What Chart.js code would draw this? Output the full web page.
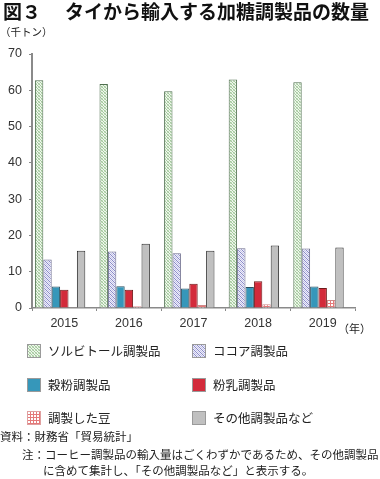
<!DOCTYPE html>
<html><head><meta charset="utf-8">
<script src="https://cdn.jsdelivr.net/npm/chart.js@4.4.1/dist/chart.umd.min.js"></script>
<style>
html,body{margin:0;padding:0;background:#fff;}
#wrap{position:relative;width:380px;height:479px;overflow:hidden;font-family:"Noto Sans CJK JP","Noto Sans",sans-serif;color:#222;}
#c{position:absolute;left:0;top:0;}
.t{position:absolute;white-space:nowrap;line-height:1;}
#title{left:3px;top:1px;font-size:19px;font-weight:bold;color:#111;}
#unit{left:0;top:27px;font-size:10.5px;}
#nen{left:338px;top:323px;font-size:11px;}
.lg{position:absolute;font-size:12.5px;line-height:1;white-space:nowrap;}
.sw{position:absolute;width:14px;height:14px;}
.ft{font-size:11.5px;}
</style></head>
<body><div id="wrap">
<canvas id="c" width="380" height="479"></canvas>
<div class="t" id="title">図３<span style="margin-left:24px">タイから輸入する加糖調製品の数量</span></div>
<div class="t" id="unit">（千トン）</div>
<div class="t" id="nen">（年）</div>
<div id="legend"></div>
<div class="t ft" style="left:0;top:431px;">資料：財務省「貿易統計」</div>
<div class="t ft" style="left:22px;top:449px;">注：コーヒー調製品の輸入量はごくわずかであるため、その他調製品</div>
<div class="t ft" style="left:43px;top:465px;">に含めて集計し、「その他調製品など」と表示する。</div>
</div>
<script>
// ---- data ----
const categories = ['2015','2016','2017','2018','2019'];
const seriesNames = ['ソルビトール調製品','ココア調製品','穀粉調製品','粉乳調製品','調製した豆','その他調製品など'];
const sorbitol = [62.8, 61.7, 59.7, 63.0, 62.2];
const cocoa    = [13.4, 15.6, 15.1, 16.5, 16.4];
const flour    = [5.9, 6.0, 5.4, 5.8, 5.9];
const milk     = [5.0, 5.0, 6.7, 7.4, 5.5];
const beans    = [0.1, 0.5, 0.8, 1.0, 2.2];
const others   = [15.8, 17.7, 15.8, 17.2, 16.7];
const yTicks   = [0,10,20,30,40,50,60,70];

// ---- patterns ----
function makeTile(kind){
  const t=document.createElement('canvas');
  const s = kind==='bean'?3:(kind==='sorb'?3:4);
  t.width=s;t.height=s;
  const g=t.getContext('2d');
  if(kind==='sorb'){
    g.fillStyle='#eef6eb';g.fillRect(0,0,3,3);
    g.fillStyle='#a3c99c';
    [[0,0],[1,1],[2,2]].forEach(p=>g.fillRect(p[0],p[1],1,1));
    g.fillStyle='#c5dec0';
    [[2,0],[0,2]].forEach(p=>g.fillRect(p[0],p[1],1,1));
  }else if(kind==='cocoa'){
    g.fillStyle='#eeeefa';g.fillRect(0,0,4,4);
    g.fillStyle='#8a8ac8';
    [[0,0],[1,1],[2,2],[3,3]].forEach(p=>g.fillRect(p[0],p[1],1,1));
    g.fillStyle='#c4c4e6';
    [[2,0],[3,1],[0,2],[1,3]].forEach(p=>g.fillRect(p[0],p[1],1,1));
  }else if(kind==='bean'){
    g.fillStyle='#ffffff';g.fillRect(0,0,3,3);
    g.fillStyle='#e47a7a';
    g.fillRect(0,0,3,1);g.fillRect(0,0,1,3);
  }
  return t;
}
const ctx=document.getElementById('c').getContext('2d');
const pats={
  sorb:ctx.createPattern(makeTile('sorb'),'repeat'),
  cocoa:ctx.createPattern(makeTile('cocoa'),'repeat'),
  bean:ctx.createPattern(makeTile('bean'),'repeat')
};
const styles=[
  {bg:pats.sorb,bd:'#4f6f4f',tile:'sorb'},
  {bg:pats.cocoa,bd:'#6c6c8c',tile:'cocoa'},
  {bg:'#3697ba',bd:'#2c4f60'},
  {bg:'#d32b3b',bd:'#6e1a1a'},
  {bg:pats.bean,bd:'#d08888',tile:'bean'},
  {bg:'#c0c0c0',bd:'#333333'}
];
const values=[sorbitol,cocoa,flour,milk,beans,others];
const datasets=values.map((v,i)=>({
  label:seriesNames[i],data:v,backgroundColor:styles[i].bg,borderColor:styles[i].bd,
  borderWidth:1,barPercentage:1,categoryPercentage:0.91
}));
// spacer slot (coffee preparations are merged into others; the reference keeps an empty slot)
datasets.push({label:'',data:categories.map(()=>null),barPercentage:1,categoryPercentage:0.91});

new Chart(ctx,{
  type:'bar',
  data:{labels:categories,datasets:datasets},
  options:{
    responsive:false,animation:false,
    layout:{padding:{left:0,top:54,right:25,bottom:147}},
    plugins:{legend:{display:false},tooltip:{enabled:false}},
    scales:{
      x:{
        grid:{drawOnChartArea:false,tickLength:3,color:'#888',lineWidth:1},
        border:{color:'#8a8a8a',width:1.5},
        ticks:{font:{family:'"Liberation Sans",Arial,sans-serif',size:12.5},color:'#333',padding:5,maxRotation:0},
        afterFit:s=>{s.height=24;}
      },
      y:{
        min:0,max:70,
        afterBuildTicks:s=>{s.ticks=yTicks.map(v=>({value:v}));},
        grid:{drawOnChartArea:false,tickLength:3,color:'#888',lineWidth:1},
        border:{color:'#8a8a8a',width:2},
        ticks:{font:{family:'"Liberation Sans",Arial,sans-serif',size:12.5},color:'#333',padding:7},
        afterFit:s=>{s.width=32;}
      }
    }
  }
});

// ---- legend (HTML) ----
const lg=document.getElementById('legend');
const pos=[[27,344],[192,344],[27,378],[192,378],[27,411],[192,411]];
seriesNames.forEach((n,i)=>{
  const sw=document.createElement('canvas');sw.width=14;sw.height=14;sw.className='sw';
  sw.style.left=pos[i][0]+'px';sw.style.top=pos[i][1]+'px';
  const g=sw.getContext('2d');
  const st=styles[i];
  g.fillStyle=st.tile?g.createPattern(makeTile(st.tile),'repeat'):st.bg;
  g.fillRect(0,0,14,14);
  g.strokeStyle=st.tile==='bean'?'#e0a0a0':'#9a9a9a';g.lineWidth=1;g.strokeRect(0.5,0.5,13,13);
  lg.appendChild(sw);
  const tx=document.createElement('div');tx.className='lg';tx.textContent=n;
  tx.style.left=(pos[i][0]+21)+'px';tx.style.top=(pos[i][1]+1)+'px';
  lg.appendChild(tx);
});
</script>
</body></html>
